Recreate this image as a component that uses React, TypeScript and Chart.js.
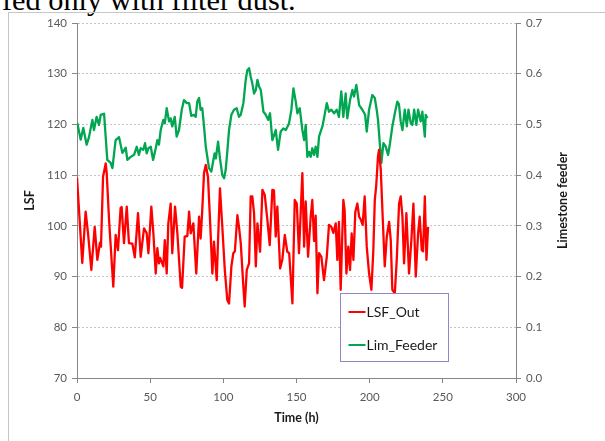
import { useEffect, useRef } from "react";
import { Chart, registerables } from "chart.js";

Chart.register(...registerables);

// Hourly kiln record: LSF at kiln outlet (left axis) and limestone feeder setting (right axis)
const lsfTime = [
  0, 3.6, 5.9, 7.5, 9.8, 12.1, 13.9, 15.7, 16.4, 17.8, 19.6, 20.3, 21.9, 24.8, 26.4, 28, 29.8, 30.5,
  32.1, 34, 35.5, 37.8, 39.5, 41.7, 43.5, 45.8, 47.6, 48.8, 50.8, 52.2, 53.8, 54.9, 56, 56.8, 59, 60,
  61.3, 62.4, 64, 65.1, 67, 68.6, 70.9, 71.8, 73.6, 75.4, 76.6, 77.7, 79.5, 81.5, 83.4, 84.5, 85.6,
  86.8, 88, 89.5, 90.9, 92.5, 93.6, 95.5, 96.4, 97.7, 99.3, 101, 102.7, 103.9, 105.5, 106.8, 107.9,
  109.6, 110.7, 111.9, 113.7, 114.6, 116, 117.6, 118.7, 119.8, 121, 122.2, 123.3, 125.1, 126.7, 128.3,
  130.1, 131.7, 133.5, 134.6, 135.8, 136.9, 138.8, 140.3, 142, 143.7, 145, 147.2, 148.8, 150.2, 151.7,
  154, 155.2, 156.3, 157.9, 159.7, 160.8, 162, 163.1, 164.3, 165.4, 167, 168.8, 170.7, 172.2, 173.8,
  175.2, 176.8, 177.9, 179, 180.2, 182, 182.9, 184.1, 185.4, 186.6, 187.7, 188.9, 190.2, 191.6, 192.8,
  194, 195.2, 196.6, 198, 199.6, 201.2, 202.5, 203.5, 204.5, 205.7, 206.4, 207.6, 208.7, 210.3, 211.7,
  213.3, 214.4, 215.5, 217.2, 218.5, 220.1, 221.2, 222.4, 223.5, 225.1, 226.9, 228.5, 229.9, 231.5,
  233.1, 234.2, 235.6, 236.5, 237.7, 238.8, 239.9,
];
const lsfOut = [
  109.5, 92.7, 102.8, 98.6, 91.3, 99.8, 93.3, 96.7, 95.9, 109.7, 112.3, 110.4, 101.2, 88, 98.2, 95.2,
  103.5, 103.7, 96.6, 103.8, 96.6, 96.5, 93.8, 102.5, 93.9, 99.5, 98.6, 94.6, 103.8, 98.5, 90.6, 95.6,
  92.6, 93.7, 92, 97.2, 90.6, 100.5, 104.4, 94.6, 103.8, 98.5, 88, 87.8, 97.9, 98, 102.8, 98.5, 100.5,
  90.6, 101.8, 97.5, 103.1, 110.4, 112, 109.7, 101.2, 90.6, 96.9, 89.3, 97.2, 107.4, 99.8, 91.3, 85.4,
  84.7, 92, 94.6, 95, 102.1, 99.8, 96.6, 88, 84.1, 91.3, 92.6, 105.8, 105.8, 102.5, 92, 100.5, 94.9,
  107.1, 106.1, 101.2, 96.2, 107.1, 107, 97.9, 103.8, 91.6, 93.3, 98.2, 94.9, 94.6, 84.7, 105.1, 104.4,
  94.6, 110.4, 95.9, 104.8, 93.9, 101.8, 105.1, 97, 102, 86.7, 94.6, 93.9, 89.3, 93.9, 100.2, 99.8,
  98.6, 100.5, 93.3, 100.8, 87.4, 105.1, 103.1, 90.6, 95.9, 91.3, 98.5, 93.3, 102.8, 104.4, 101.8,
  101.2, 100.2, 105.8, 95.9, 90.6, 87.4, 95.2, 105.1, 108, 113.7, 115, 111, 103.1, 92, 97.9, 100.8,
  97.2, 87.4, 86.7, 93.3, 104.4, 105.8, 101.8, 92.6, 102.5, 90.6, 97.2, 104.4, 90, 98.5, 101.8, 95.2,
  95, 105.8, 93.3, 99.8,
];

const feederTime = [
  0.2, 2.5, 4.3, 6.6, 8.2, 10.5, 11.6, 13.4, 15, 16.2, 18.5, 20.7, 23, 24.2, 26.4, 28.7, 31, 33.3,
  34.4, 36.7, 39, 40.8, 42.3, 43.5, 45.3, 46.5, 47.6, 48.8, 50.4, 52, 53.8, 54.9, 56, 57.2, 59, 60,
  61.3, 62.9, 64, 65.1, 66.8, 68.1, 69.7, 71.6, 73.1, 75, 76.6, 78.1, 80, 81.1, 82.2, 83.4, 84.5, 85.6,
  86.8, 88, 90.2, 91.8, 93.2, 94, 94.9, 96.4, 97.7, 99.3, 100.5, 101.6, 102.7, 103.9, 105.5, 107.3,
  109.1, 110.7, 111.9, 113.7, 115.3, 116.4, 117.6, 118.7, 119.8, 121, 122.2, 123.3, 124.4, 125.6,
  127.4, 129, 130.6, 131.9, 133.5, 134.7, 135.8, 137.4, 139.2, 141, 142.7, 144.9, 146.5, 147.9, 149.5,
  150.6, 152.2, 154, 155.2, 156.3, 157.4, 158.6, 159.7, 160.8, 162, 163.1, 164.3, 165.4, 167.7, 168.8,
  170.7, 172.2, 173.8, 175.7, 177.5, 179, 180.6, 182, 183.6, 184.7, 186.6, 188.2, 189.3, 190.9, 192.8,
  195, 196.9, 198, 199.6, 201.8, 203.5, 204.8, 205.7, 207.1, 208, 209.4, 211, 212.6, 213.9, 215.5,
  217.2, 218.9, 220, 221.2, 222.4, 224, 225.4, 226.5, 228.1, 229.2, 230.4, 231.9, 233.1, 234.9, 236,
  237.7, 238.3, 239.4,
];
const limFeeder = [
  0.503, 0.47, 0.493, 0.46, 0.475, 0.509, 0.489, 0.515, 0.499, 0.519, 0.521, 0.43, 0.424, 0.414, 0.469,
  0.475, 0.444, 0.454, 0.43, 0.436, 0.44, 0.456, 0.44, 0.453, 0.45, 0.463, 0.443, 0.453, 0.456, 0.43,
  0.453, 0.469, 0.46, 0.489, 0.509, 0.502, 0.532, 0.506, 0.512, 0.496, 0.515, 0.476, 0.489, 0.529, 0.548,
  0.542, 0.542, 0.517, 0.519, 0.515, 0.545, 0.552, 0.529, 0.532, 0.496, 0.456, 0.414, 0.407, 0.43, 0.443,
  0.433, 0.466, 0.433, 0.4, 0.394, 0.41, 0.446, 0.489, 0.519, 0.529, 0.532, 0.515, 0.519, 0.542, 0.588,
  0.607, 0.611, 0.594, 0.581, 0.561, 0.568, 0.588, 0.575, 0.568, 0.525, 0.519, 0.509, 0.522, 0.469,
  0.479, 0.489, 0.45, 0.486, 0.492, 0.489, 0.502, 0.529, 0.571, 0.545, 0.522, 0.532, 0.489, 0.469, 0.499,
  0.436, 0.446, 0.436, 0.453, 0.44, 0.456, 0.436, 0.476, 0.496, 0.512, 0.542, 0.525, 0.529, 0.522, 0.529,
  0.515, 0.565, 0.515, 0.561, 0.512, 0.548, 0.568, 0.555, 0.578, 0.538, 0.529, 0.519, 0.486, 0.529,
  0.558, 0.552, 0.529, 0.509, 0.456, 0.424, 0.463, 0.456, 0.44, 0.463, 0.496, 0.522, 0.545, 0.54, 0.506,
  0.489, 0.529, 0.496, 0.529, 0.502, 0.499, 0.529, 0.499, 0.529, 0.506, 0.525, 0.476, 0.519, 0.512,
];

const seriesNames = ["LSF_Out", "Lim_Feeder"];
const axisTitles = { x: "Time (h)", left: "LSF", right: "Limestone feeder" };

const RED = "#ff0000";
const GREEN = "#00a650";
const AXIS = "#868686";
const TICK_TEXT = "#595959";
const FONT = "Lato, 'Open Sans', sans-serif";

// Boxed legend sitting inside the plot, lower middle
const boxLegend = {
  id: "boxLegend",
  afterDatasetsDraw(chart: any) {
    const { ctx, chartArea } = chart;
    const x = chartArea.left + 263.5;
    const y = chartArea.top + 270.5;
    const w = 108;
    const h = 68;
    ctx.save();
    ctx.fillStyle = "#ffffff";
    ctx.fillRect(x, y, w, h);
    ctx.strokeStyle = "#9585c6";
    ctx.lineWidth = 1;
    ctx.strokeRect(x, y, w, h);
    chart.data.datasets.forEach((ds: any, i: number) => {
      const cy = Math.round(y + 18.5 + i * 33);
      ctx.strokeStyle = ds.borderColor;
      ctx.lineWidth = 2;
      ctx.beginPath();
      ctx.moveTo(x + 8, cy);
      ctx.lineTo(x + 25, cy);
      ctx.stroke();
      ctx.fillStyle = "#1a1a1a";
      ctx.font = `14px ${FONT}`;
      ctx.textBaseline = "middle";
      ctx.textAlign = "left";
      ctx.fillText(ds.label, x + 26, cy);
    });
    ctx.restore();
  },
};

// Secondary axis title, reading bottom to top
const rightTitle = {
  id: "rightTitle",
  afterDraw(chart: any) {
    const { ctx, chartArea } = chart;
    ctx.save();
    ctx.translate(chartArea.right + 47, (chartArea.top + chartArea.bottom) / 2);
    ctx.rotate(-Math.PI / 2);
    ctx.fillStyle = "#1a1a1a";
    ctx.font = `bold 12.5px ${FONT}`;
    ctx.textAlign = "center";
    ctx.textBaseline = "middle";
    ctx.fillText(axisTitles.right, 0, 0);
    ctx.restore();
  },
};

export default function App() {
  const canvasRef = useRef<HTMLCanvasElement | null>(null);

  useEffect(() => {
    if (!canvasRef.current) return;
    const tickFont = { family: FONT, size: 11.5 };
    const titleFont = { family: FONT, size: 12.5, weight: "bold" as const };

    const chart = new Chart(canvasRef.current, {
      type: "line",
      data: {
        datasets: [
          {
            label: seriesNames[0],
            data: lsfTime.map((t, i) => ({ x: t, y: lsfOut[i] })),
            borderColor: RED,
            backgroundColor: RED,
            borderWidth: 2.3,
            pointRadius: 0,
            tension: 0,
            borderJoinStyle: "round",
            yAxisID: "y",
          },
          {
            label: seriesNames[1],
            data: feederTime.map((t, i) => ({ x: t, y: limFeeder[i] })),
            borderColor: GREEN,
            backgroundColor: GREEN,
            borderWidth: 2.3,
            pointRadius: 0,
            tension: 0,
            borderJoinStyle: "round",
            yAxisID: "y1",
          },
        ],
      },
      options: {
        responsive: false,
        animation: false,
        events: [],
        layout: { padding: { left: 0, right: 0, top: 23, bottom: 0 } },
        plugins: {
          legend: { display: false },
          tooltip: { enabled: false },
        },
        scales: {
          x: {
            type: "linear",
            min: 0,
            max: 300,
            afterFit: (s: any) => {
              s.height = 63;
            },
            ticks: { stepSize: 50, color: TICK_TEXT, font: tickFont, padding: 7, maxRotation: 0 },
            grid: { drawOnChartArea: false, tickLength: 5, tickColor: AXIS },
            border: { color: AXIS, width: 1 },
            title: {
              display: true,
              text: axisTitles.x,
              color: "#1a1a1a",
              font: titleFont,
              padding: { top: 0, bottom: 15.5 },
            },
          },
          y: {
            type: "linear",
            position: "left",
            min: 70,
            max: 140,
            afterFit: (s: any) => {
              s.width = 77;
            },
            ticks: { stepSize: 10, color: TICK_TEXT, font: tickFont, padding: 5 },
            grid: {
              color: "#c4c4c4",
              borderDash: [2, 2],
              tickLength: 5,
              tickColor: AXIS,
              tickBorderDash: [],
            } as any,
            border: { color: AXIS, width: 1, dash: [2, 2] } as any,
            title: {
              display: true,
              text: axisTitles.left,
              color: "#1a1a1a",
              font: titleFont,
              padding: { top: 22.5, bottom: 0 },
            },
          },
          y1: {
            type: "linear",
            position: "right",
            min: 0,
            max: 0.7,
            afterFit: (s: any) => {
              s.width = 89;
            },
            ticks: {
              stepSize: 0.1,
              color: TICK_TEXT,
              font: tickFont,
              padding: 5,
              callback: (v: any) => Number(v).toFixed(1),
            },
            grid: { drawOnChartArea: false, tickLength: 5, tickColor: AXIS },
            border: { color: AXIS, width: 1 },
          },
        },
      },
      plugins: [boxLegend, rightTitle],
    });
    return () => chart.destroy();
  }, []);

  return (
    <div
      style={{
        position: "fixed",
        left: 0,
        top: 0,
        width: 605,
        height: 441,
        overflow: "hidden",
        background: "#ffffff",
      }}
    >
      <div
        style={{
          position: "absolute",
          left: 2,
          top: -15,
          fontFamily: "'Liberation Serif', 'Times New Roman', serif",
          fontSize: 30.3,
          lineHeight: "30px",
          color: "#000",
          whiteSpace: "nowrap",
        }}
      >
        fed only with filter dust.
      </div>
      <div
        style={{
          position: "absolute",
          left: 8,
          top: 12,
          width: 700,
          height: 600,
          border: "1px solid #c6c6c6",
          boxSizing: "border-box",
        }}
      />
      <canvas
        ref={canvasRef}
        width={605}
        height={441}
        style={{ position: "absolute", left: 0, top: 0, width: 605, height: 441 }}
      />
    </div>
  );
}
